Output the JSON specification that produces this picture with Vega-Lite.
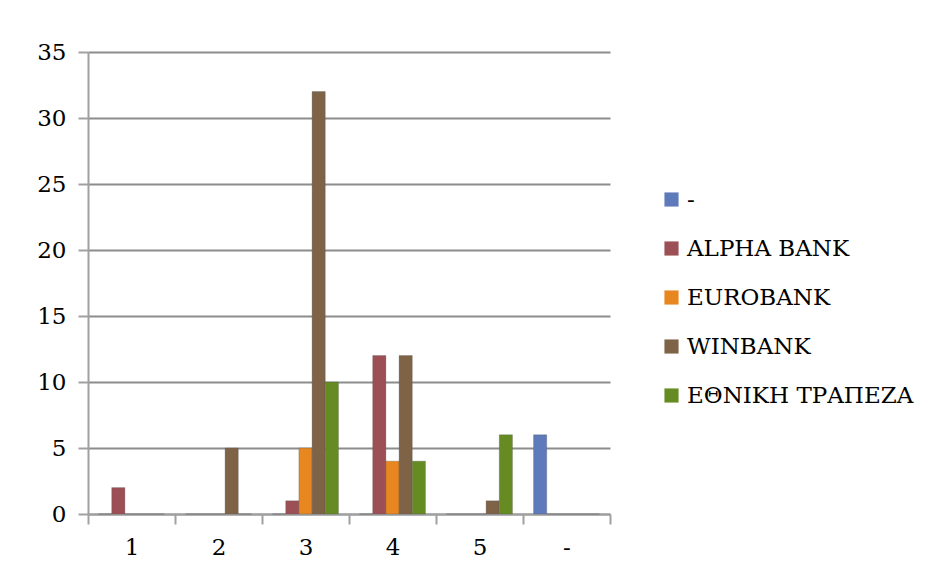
{
  "$schema": "https://vega.github.io/schema/vega-lite/v6.json",
  "width": 522,
  "height": 462,
  "autosize": "none",
  "padding": {"left": 88, "top": 52, "right": 319, "bottom": 71},
  "background": "white",
  "config": {
    "view": {"stroke": null},
    "font": "DejaVu Serif",
    "axis": {"labelFont": "DejaVu Serif"},
    "legend": {"labelFont": "DejaVu Serif"}
  },
  "data": {
    "values": [
      {"cat": "1", "bank": "-", "v": 0},
      {"cat": "1", "bank": "ALPHA BANK", "v": 2},
      {"cat": "1", "bank": "EUROBANK", "v": 0},
      {"cat": "1", "bank": "WINBANK", "v": 0},
      {"cat": "1", "bank": "ΕΘΝΙΚΗ ΤΡΑΠΕΖΑ", "v": 0},
      {"cat": "2", "bank": "-", "v": 0},
      {"cat": "2", "bank": "ALPHA BANK", "v": 0},
      {"cat": "2", "bank": "EUROBANK", "v": 0},
      {"cat": "2", "bank": "WINBANK", "v": 5},
      {"cat": "2", "bank": "ΕΘΝΙΚΗ ΤΡΑΠΕΖΑ", "v": 0},
      {"cat": "3", "bank": "-", "v": 0},
      {"cat": "3", "bank": "ALPHA BANK", "v": 1},
      {"cat": "3", "bank": "EUROBANK", "v": 5},
      {"cat": "3", "bank": "WINBANK", "v": 32},
      {"cat": "3", "bank": "ΕΘΝΙΚΗ ΤΡΑΠΕΖΑ", "v": 10},
      {"cat": "4", "bank": "-", "v": 0},
      {"cat": "4", "bank": "ALPHA BANK", "v": 12},
      {"cat": "4", "bank": "EUROBANK", "v": 4},
      {"cat": "4", "bank": "WINBANK", "v": 12},
      {"cat": "4", "bank": "ΕΘΝΙΚΗ ΤΡΑΠΕΖΑ", "v": 4},
      {"cat": "5", "bank": "-", "v": 0},
      {"cat": "5", "bank": "ALPHA BANK", "v": 0},
      {"cat": "5", "bank": "EUROBANK", "v": 0},
      {"cat": "5", "bank": "WINBANK", "v": 1},
      {"cat": "5", "bank": "ΕΘΝΙΚΗ ΤΡΑΠΕΖΑ", "v": 6},
      {"cat": "-", "bank": "-", "v": 6},
      {"cat": "-", "bank": "ALPHA BANK", "v": 0},
      {"cat": "-", "bank": "EUROBANK", "v": 0},
      {"cat": "-", "bank": "WINBANK", "v": 0},
      {"cat": "-", "bank": "ΕΘΝΙΚΗ ΤΡΑΠΕΖΑ", "v": 0}
    ]
  },
  "mark": {"type": "bar", "stroke": "#555555", "strokeWidth": 0.3},
  "encoding": {
    "x": {
      "field": "cat",
      "type": "nominal",
      "sort": ["1", "2", "3", "4", "5", "-"],
      "scale": {"paddingInner": 0, "paddingOuter": 0},
      "axis": {
        "title": null,
        "labelAngle": 0,
        "labelFont": "DejaVu Serif",
        "labelFontSize": 23,
        "labelColor": "#000000",
        "labelPadding": 12,
        "tickBand": "extent",
        "tickSize": 10,
        "tickColor": "#a0a0a0",
        "tickWidth": 2,
        "domainColor": "#a0a0a0",
        "domainWidth": 2,
        "grid": false
      }
    },
    "xOffset": {
      "field": "bank",
      "type": "nominal",
      "sort": ["-", "ALPHA BANK", "EUROBANK", "WINBANK", "ΕΘΝΙΚΗ ΤΡΑΠΕΖΑ"],
      "scale": {"paddingInner": 0, "paddingOuter": 0.8}
    },
    "y": {
      "field": "v",
      "type": "quantitative",
      "scale": {"domain": [0, 35]},
      "axis": {
        "title": null,
        "values": [0, 5, 10, 15, 20, 25, 30, 35],
        "labelFont": "DejaVu Serif",
        "labelFontSize": 23,
        "labelColor": "#000000",
        "labelPadding": 12,
        "tickSize": 10,
        "tickColor": "#a0a0a0",
        "tickWidth": 2,
        "domainColor": "#a0a0a0",
        "domainWidth": 2,
        "gridColor": "#8c8c8c",
        "gridWidth": 2
      }
    },
    "color": {
      "field": "bank",
      "type": "nominal",
      "sort": ["-", "ALPHA BANK", "EUROBANK", "WINBANK", "ΕΘΝΙΚΗ ΤΡΑΠΕΖΑ"],
      "scale": {
        "domain": ["-", "ALPHA BANK", "EUROBANK", "WINBANK", "ΕΘΝΙΚΗ ΤΡΑΠΕΖΑ"],
        "range": ["#5f7abb", "#9c4f55", "#e8861f", "#7f6347", "#658b22"]
      },
      "legend": {
        "title": null,
        "orient": "none",
        "legendX": 572,
        "legendY": 136,
        "symbolType": "square",
        "symbolSize": 200,
        "symbolStrokeWidth": 0,
        "labelFont": "DejaVu Serif",
        "labelFontSize": 23,
        "labelLimit": 400,
        "labelColor": "#000000",
        "rowPadding": 25,
        "labelOffset": 4
      }
    }
  }
}
